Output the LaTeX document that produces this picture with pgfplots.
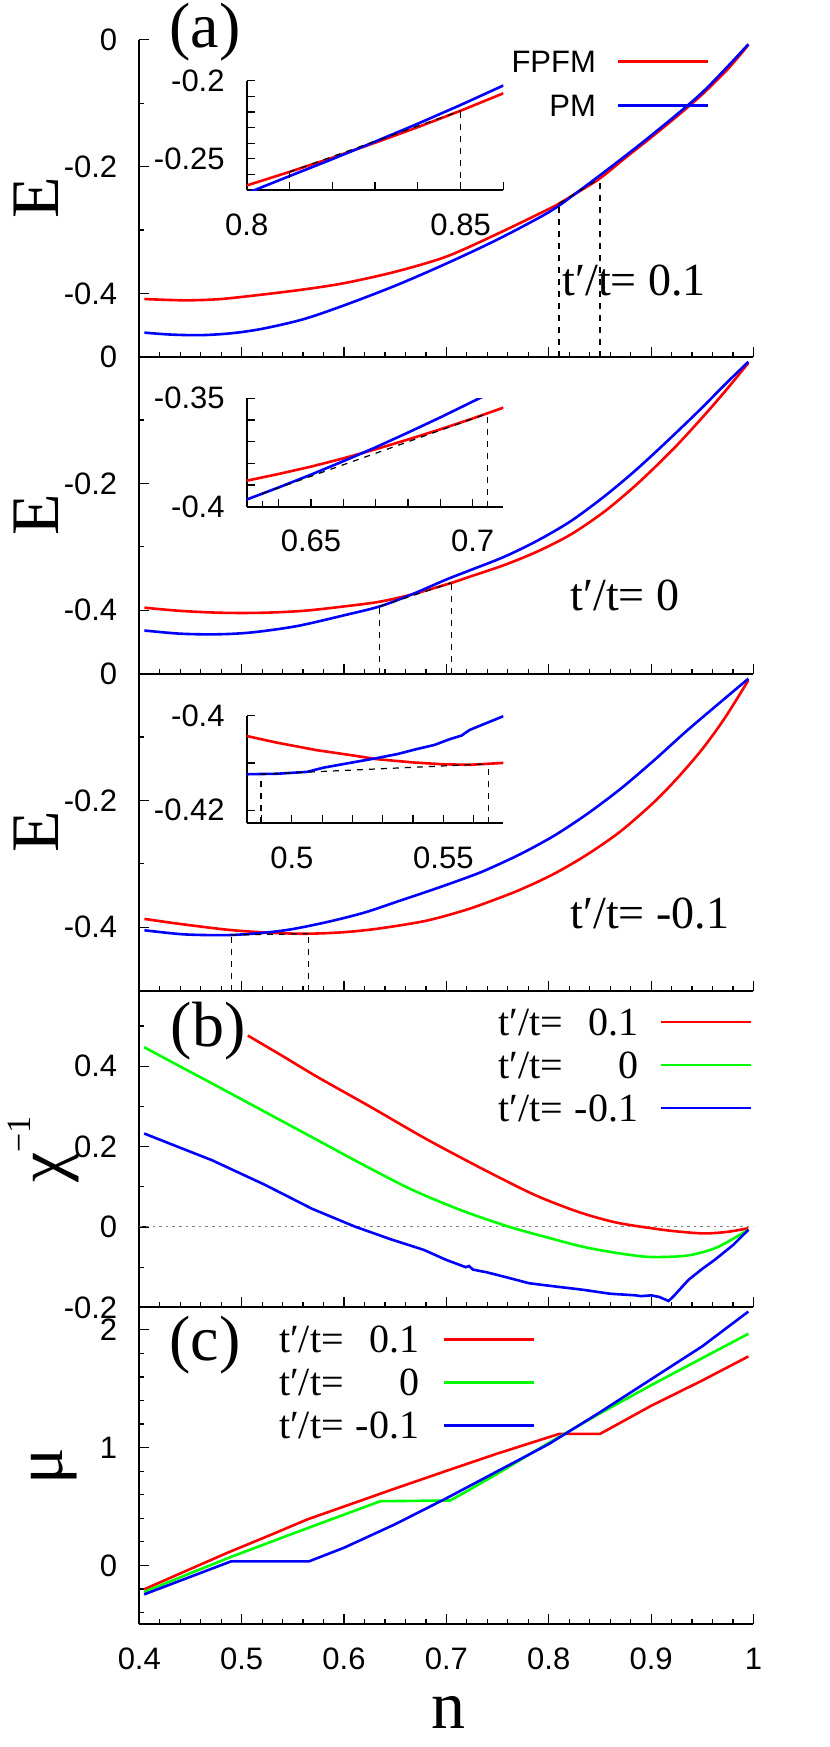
\documentclass[border=0pt]{standalone}
\usepackage{pgfplots}
\pgfplotsset{compat=1.18}
\usepackage{fontspec}
\setmainfont{Liberation Serif}
\newfontfamily\sans{Liberation Sans}
\newcommand\ticksf{\sans\fontsize{15.5}{18}\selectfont}
\newcommand\bigser{\fontsize{34}{40}\selectfont}
\newcommand\tlab{\fontsize{23}{27}\selectfont}
\newcommand\tpt[1]{\makebox[1.65em][l]{t′/t=}\makebox[1.85em][r]{#1}}

\pgfplotsset{
  every axis/.append style={
    scale only axis, anchor=south west,
    axis x line*=bottom, axis y line*=left,
    tick align=inside,
    axis line style={line width=1pt},
    tick style={black, line width=0.6pt},
    tick label style={font=\ticksf, inner sep=0pt},
    xticklabel shift=11.5pt, yticklabel shift=10.85pt,
  },
  every axis plot/.append style={line width=1.3pt},
  panel/.style={width=307.1pt, height=158.45pt, xmin=0.4, xmax=1,
    xtick={0.4,0.5,0.6,0.7,0.8,0.9,1}, minor x tick num=4,
    major tick length=5pt, minor tick length=2.5pt, xticklabels={}},
  epanel/.style={panel, ymin=-0.5, ymax=0, ytick={-0.4,-0.2,0},
    yticklabels={-0.4,-0.2,0}, minor ytick={-0.5,-0.3,-0.1}},
  inset/.style={width=128.35pt, major tick length=4pt, minor tick length=4pt},
  dsh/.style={black, line width=0.6pt, dash pattern=on 3pt off 3pt, forget plot},
  leg/.style={legend plot pos=right, legend cell align=right,
    legend image code/.code={\draw[##1] (0pt,0pt) -- (45pt,0pt);}},
}

\begin{document}%
\begin{tikzpicture}%

% ---- panel (a) t'/t = 0.1
\begin{axis}[epanel, at={(69.65pt,-178.35pt)}, leg,
  legend style={at={(rel axis cs:0.929,0.968)}, anchor=north east, draw=none, fill=none,
    inner sep=0pt, font=\ticksf, row sep=11pt, column sep=10.5pt,
    nodes={inner sep=0pt, text height=11pt, text depth=0pt}}]
\addplot[red, smooth] coordinates {(0.405,-0.409) (0.43,-0.4105) (0.45,-0.411) (0.48,-0.409)
  (0.52,-0.402) (0.56,-0.394) (0.60,-0.384) (0.65,-0.366) (0.70,-0.342) (0.75,-0.306)
  (0.80,-0.267) (0.81,-0.2584) (0.8274,-0.2415) (0.85,-0.2186) (0.875,-0.186) (0.90,-0.154)
  (0.925,-0.121) (0.95,-0.086) (0.975,-0.046) (0.995,-0.008)};
\addlegendentry{FPFM}
\addplot[blue, smooth] coordinates {(0.405,-0.462) (0.43,-0.465) (0.46,-0.466) (0.49,-0.463)
  (0.52,-0.456) (0.56,-0.441) (0.60,-0.419) (0.65,-0.388) (0.70,-0.353) (0.75,-0.315)
  (0.80,-0.272) (0.8274,-0.241) (0.86,-0.2015) (0.90,-0.151) (0.95,-0.083) (0.995,-0.007)};
\addlegendentry{PM}
\addplot[dsh] coordinates {(0.81,-0.5) (0.81,-0.2584)};
\addplot[dsh] coordinates {(0.85,-0.5) (0.85,-0.2186)};
\addplot[dsh] coordinates {(0.81,-0.2584) (0.85,-0.2186)};
\end{axis}

% ---- panel t'/t = 0
\begin{axis}[epanel, at={(69.65pt,-336.8pt)}]
\addplot[red, smooth] coordinates {(0.405,-0.396) (0.44,-0.401) (0.48,-0.404) (0.52,-0.404)
  (0.56,-0.401) (0.60,-0.394) (0.635,-0.3865) (0.667,-0.3748) (0.7046,-0.357) (0.723,-0.347)
  (0.756,-0.329) (0.788,-0.308) (0.821,-0.281) (0.853,-0.246) (0.880,-0.210) (0.902,-0.177)
  (0.925,-0.140) (0.950,-0.096) (0.972,-0.055) (0.995,-0.010)};
\addplot[blue, smooth] coordinates {(0.405,-0.432) (0.44,-0.437) (0.4756,-0.438) (0.51,-0.435)
  (0.554,-0.425) (0.60,-0.408) (0.635,-0.3939) (0.667,-0.3745) (0.70,-0.3515) (0.723,-0.337)
  (0.756,-0.316) (0.788,-0.291) (0.821,-0.260) (0.853,-0.222) (0.880,-0.186) (0.902,-0.154)
  (0.925,-0.119) (0.950,-0.080) (0.972,-0.044) (0.995,-0.008)};
\addplot[dsh] coordinates {(0.635,-0.5) (0.635,-0.3939)};
\addplot[dsh] coordinates {(0.7046,-0.5) (0.7046,-0.357)};
\addplot[dsh] coordinates {(0.635,-0.3939) (0.7046,-0.357)};
\end{axis}

% ---- panel t'/t = -0.1
\begin{axis}[epanel, at={(69.65pt,-495.25pt)}]
\addplot[red, smooth] coordinates {(0.405,-0.387) (0.44,-0.395) (0.4886,-0.4045) (0.53,-0.409)
  (0.5635,-0.4104) (0.60,-0.408) (0.635,-0.402) (0.68,-0.390) (0.7166,-0.374) (0.74,-0.361)
  (0.772,-0.341) (0.805,-0.316) (0.837,-0.286) (0.870,-0.249) (0.902,-0.204) (0.925,-0.166)
  (0.950,-0.119) (0.972,-0.070) (0.995,-0.0105)};
\addplot[blue, smooth] coordinates {(0.405,-0.405) (0.44,-0.411) (0.4658,-0.4125) (0.49,-0.4124)
  (0.521,-0.409) (0.55,-0.403) (0.586,-0.391) (0.62,-0.377) (0.6515,-0.360) (0.69,-0.339)
  (0.723,-0.320) (0.740,-0.309) (0.772,-0.285) (0.805,-0.256) (0.837,-0.222) (0.870,-0.182)
  (0.902,-0.138) (0.935,-0.090) (0.967,-0.046) (0.995,-0.008)};
\addplot[dsh] coordinates {(0.4898,-0.5) (0.4898,-0.4124)};
\addplot[dsh] coordinates {(0.565,-0.5) (0.565,-0.4104)};
\addplot[dsh] coordinates {(0.4898,-0.4124) (0.565,-0.4104)};
\end{axis}

% ---- panel (b) chi^-1
\begin{axis}[panel, at={(69.65pt,-653.7pt)}, ymin=-0.2, ymax=0.588,
  ytick={-0.2,0,0.2,0.4}, yticklabels={-0.2,0,0.2,0.4}, minor ytick={-0.1,0.1,0.3,0.5}, leg,
  legend style={at={(rel axis cs:0.998,0.944)}, anchor=north east, draw=none, fill=none,
    inner sep=0pt, font=\fontsize{20}{24}\selectfont, row sep=8pt, column sep=10.5pt,
    nodes={inner sep=0pt, text height=13.5pt, text depth=0pt}}]
\addplot[gray, dotted, line width=0.5pt, forget plot] coordinates {(0.4,0) (1,0)};
\addplot[red, smooth] coordinates {(0.506,0.476) (0.54,0.425) (0.574,0.373) (0.626,0.2985)
  (0.678,0.222) (0.7295,0.152) (0.776,0.092) (0.80,0.065) (0.833,0.034) (0.866,0.011)
  (0.90,-0.003) (0.925,-0.011) (0.952,-0.016) (0.975,-0.012) (0.995,-0.003)};
\addlegendentry{\tpt{0.1}}
\addplot[green, smooth] coordinates {(0.4047,0.447) (0.44,0.399) (0.471,0.357) (0.52,0.290)
  (0.574,0.216) (0.62,0.153) (0.667,0.092) (0.714,0.042) (0.7606,0.001) (0.80,-0.027)
  (0.833,-0.049) (0.865,-0.064) (0.895,-0.074) (0.92,-0.074) (0.94,-0.069) (0.965,-0.050)
  (0.995,-0.007)};
\addlegendentry{\tpt{0}}
\addplot[blue] coordinates {(0.4047,0.2325) (0.44,0.197) (0.471,0.166) (0.5226,0.105)
  (0.569,0.045) (0.6106,0.001) (0.645,-0.030) (0.678,-0.057) (0.70,-0.082) (0.719,-0.100)
  (0.722,-0.097) (0.726,-0.106) (0.73,-0.108) (0.74,-0.113) (0.76,-0.126) (0.781,-0.140)
  (0.80,-0.146) (0.833,-0.156) (0.86,-0.166) (0.885,-0.170) (0.89,-0.172) (0.90,-0.170)
  (0.908,-0.174) (0.917,-0.184) (0.922,-0.172) (0.9365,-0.1315) (0.95,-0.104) (0.962,-0.082)
  (0.98,-0.045) (0.995,-0.007)};
\addlegendentry{\tpt{-0.1}}
\end{axis}

% ---- panel (c) mu
\begin{axis}[panel, at={(69.65pt,-812.15pt)}, ymin=-0.5, ymax=2.19,
  ytick={0,1,2}, yticklabels={0,1,2}, minor ytick={-0.4,-0.2,0.2,0.4,0.6,0.8,1.2,1.4,1.6,1.8},
  xticklabels={0.4,0.5,0.6,0.7,0.8,0.9,1}, leg,
  legend style={at={(rel axis cs:0.646,0.9435)}, anchor=north east, draw=none, fill=none,
    inner sep=0pt, font=\fontsize{20}{24}\selectfont, row sep=8pt, column sep=12pt,
    nodes={inner sep=0pt, text height=13.5pt, text depth=0pt}}]
\addplot[red] coordinates {(0.4047,-0.203) (0.45,-0.03) (0.486,0.107) (0.53,0.265) (0.564,0.39)
  (0.60,0.50) (0.647,0.644) (0.7037,0.8136) (0.75,0.95) (0.81,1.116) (0.85,1.116) (0.90,1.355)
  (0.95,1.57) (0.995,1.774)};
\addlegendentry{\tpt{0.1}}
\addplot[green] coordinates {(0.4047,-0.226) (0.45,-0.066) (0.4916,0.079) (0.55,0.27)
  (0.6354,0.545) (0.7037,0.551) (0.72,0.63) (0.75,0.78) (0.80,1.04) (0.85,1.29) (0.90,1.53)
  (0.95,1.76) (0.995,1.966)};
\addlegendentry{\tpt{0}}
\addplot[blue] coordinates {(0.4047,-0.246) (0.4895,0.034) (0.5656,0.034) (0.60,0.15) (0.65,0.35)
  (0.70,0.57) (0.75,0.80) (0.80,1.03) (0.85,1.30) (0.90,1.58) (0.95,1.86) (0.995,2.155)};
\addlegendentry{\tpt{-0.1}}
\end{axis}

% ---- insets
\begin{axis}[inset, at={(123.35pt,-95pt)}, height=54.6pt, xmin=0.8, xmax=0.86, ymin=-0.27, ymax=-0.2,
  xtick={0.8,0.85}, xticklabels={0.8,0.85}, minor xtick={0.81,0.82,0.83,0.84,0.86},
  ytick={-0.25,-0.2}, yticklabels={-0.25,-0.2}, minor ytick={-0.26,-0.24,-0.23,-0.22,-0.21}]
\addplot[red] coordinates {(0.80,-0.2671) (0.81,-0.2584) (0.82,-0.2493) (0.83,-0.2397)
  (0.84,-0.2297) (0.85,-0.2192) (0.86,-0.2080)};
\addplot[blue] coordinates {(0.80,-0.2721) (0.81,-0.2611) (0.82,-0.2502) (0.83,-0.2390)
  (0.84,-0.2275) (0.85,-0.2155) (0.86,-0.2030)};
\addplot[dsh] coordinates {(0.81,-0.27) (0.81,-0.2584)};
\addplot[dsh] coordinates {(0.85,-0.27) (0.85,-0.2192)};
\addplot[dsh] coordinates {(0.81,-0.2584) (0.85,-0.2192)};
\end{axis}

\begin{axis}[inset, at={(123.35pt,-253.35pt)}, height=54.2pt, xmin=0.6301, xmax=0.7095, ymin=-0.4, ymax=-0.35,
  xtick={0.65,0.7}, xticklabels={0.65,0.7}, minor xtick={0.64,0.66,0.67,0.68,0.69},
  ytick={-0.4,-0.35}, yticklabels={-0.4,-0.35}, minor ytick={-0.39,-0.38,-0.37,-0.36}]
\addplot[red] coordinates {(0.6301,-0.3880) (0.64,-0.3849) (0.65,-0.3815) (0.66,-0.3777)
  (0.67,-0.3735) (0.68,-0.3690) (0.69,-0.3643) (0.70,-0.3593) (0.7095,-0.3543)};
\addplot[blue] coordinates {(0.6301,-0.3967) (0.64,-0.3911) (0.65,-0.3852) (0.66,-0.3790)
  (0.67,-0.3726) (0.68,-0.3658) (0.69,-0.3588) (0.70,-0.3515) (0.703,-0.3493)};
\addplot[dsh] coordinates {(0.635,-0.4) (0.635,-0.3939)};
\addplot[dsh] coordinates {(0.7046,-0.4) (0.7046,-0.357)};
\addplot[dsh] coordinates {(0.635,-0.3939) (0.7046,-0.357)};
\end{axis}

\begin{axis}[inset, at={(123.35pt,-411.65pt)}, height=53.8pt, xmin=0.4851, xmax=0.5698, ymin=-0.4228, ymax=-0.4,
  xtick={0.5,0.55}, xticklabels={0.5,0.55}, minor xtick={0.49,0.51,0.52,0.53,0.54,0.56},
  ytick={-0.42,-0.4}, yticklabels={-0.42,-0.4}, minor ytick={-0.41}]
\addplot[red] coordinates {(0.4851,-0.4043) (0.495,-0.4057) (0.5082,-0.4073) (0.52,-0.4084)
  (0.5279,-0.4092) (0.54,-0.4099) (0.55,-0.4103) (0.5587,-0.4104) (0.5698,-0.4100)};
\addplot[blue] coordinates {(0.4851,-0.4124) (0.495,-0.4123) (0.505,-0.4119) (0.5105,-0.4110)
  (0.52,-0.4099) (0.5279,-0.4090) (0.535,-0.4081) (0.541,-0.4071) (0.547,-0.4062)
  (0.552,-0.4050) (0.556,-0.4042) (0.5587,-0.4030) (0.5698,-0.4001)};
\addplot[dsh] coordinates {(0.4898,-0.4228) (0.4898,-0.4124)};
\addplot[dsh] coordinates {(0.565,-0.4228) (0.565,-0.4102)};
\addplot[dsh] coordinates {(0.4898,-0.4124) (0.565,-0.4102)};
\end{axis}

% ---- labels
\node[font=\fontsize{32}{38}\selectfont, inner sep=0pt] at (102.5pt,-16pt) {(a)};
\node[font=\fontsize{32}{38}\selectfont, inner sep=0pt] at (104pt,-515.5pt) {(b)};
\node[font=\fontsize{32}{38}\selectfont, inner sep=0pt] at (102.5pt,-672.5pt) {(c)};
\node[rotate=90, anchor=base, inner sep=0pt, font=\bigser] at (29pt,-99.1pt) {E};
\node[rotate=90, anchor=base, inner sep=0pt, font=\bigser] at (29pt,-257.6pt) {E};
\node[rotate=90, anchor=base, inner sep=0pt, font=\bigser] at (29pt,-416pt) {E};
\node[rotate=90, anchor=base, inner sep=0pt, font=\bigser] at (32pt,-574.6pt) {χ\raisebox{17pt}{\fontsize{17}{20}\selectfont −1}};
\node[rotate=90, anchor=base, inner sep=0pt, font=\bigser] at (31pt,-733pt) {μ};
\node[anchor=base, inner sep=0pt, font=\bigser] at (224pt,-864pt) {n};
\node[anchor=base west, inner sep=0pt, font=\tlab] at (281pt,-147.5pt) {t′/t= 0.1};
\node[anchor=base west, inner sep=0pt, font=\tlab] at (285pt,-305pt) {t′/t= 0};
\node[anchor=base west, inner sep=0pt, font=\tlab] at (285pt,-464pt) {t′/t= -0.1};

\pgfresetboundingbox
\path[use as bounding box] (0pt,0pt) rectangle (415pt,-873.5pt);
\end{tikzpicture}%
\end{document}
